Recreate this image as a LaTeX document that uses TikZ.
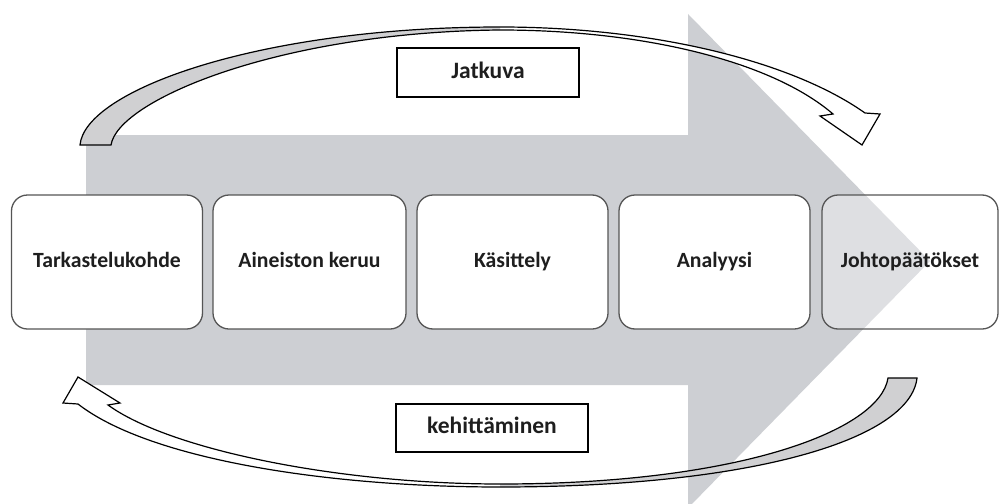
\documentclass[tikz,border=0pt]{standalone}
\usepackage{fontspec}
\setmainfont{Carlito}
\definecolor{biggray}{RGB}{205,207,211}
\definecolor{cgray}{RGB}{208,208,210}
\definecolor{boxborder}{RGB}{85,85,85}
\definecolor{txt}{RGB}{30,30,30}
\begin{document}
\begin{tikzpicture}[x=1pt,y=-1pt,
  stagebox/.style={draw=boxborder, line width=1.3pt, rounded corners=16pt, fill=white,
    minimum width=191pt, minimum height=134pt, inner sep=0pt, text=txt,
    text height=14pt, text depth=4pt,
    font=\fontsize{21.7}{24}\selectfont\bfseries},
  labelbox/.style={draw=black, line width=1.4pt, fill=white, inner sep=0pt, text=txt,
    text height=15pt, text depth=4pt,
    font=\fontsize{23.5}{26}\selectfont\bfseries},
  outline/.style={draw=black, line width=1.2pt, line join=miter}]
\useasboundingbox (0,0) rectangle (1000,503);
\clip (0,0) rectangle (1000,503);
% big gray arrow
\fill[biggray] (86,135) -- (688,135) -- (688,14) -- (930,261) -- (688,508) -- (688,385) -- (86,385) -- cycle;
% top curved arrow
\fill[white] (80,145) -- (111,145) .. controls (118,100) and (280,32) .. (500,30)
  .. controls (640,30) and (770,60) .. (833,114) -- (820,116) -- (862,145) -- (880,114) -- (865,113)
  .. controls (790,60) and (650,27) .. (500,27) .. controls (260,27) and (85,90) .. (80,145) -- cycle;
\fill[cgray] (80,145) -- (111,145) .. controls (118,100) and (280,32) .. (500,30)
  -- (500,27) .. controls (260,27) and (85,90) .. (80,145) -- cycle;
\draw[outline] (80,145) -- (111,145) .. controls (118,100) and (280,32) .. (500,30)
  .. controls (640,30) and (770,60) .. (833,114) -- (820,116) -- (862,145) -- (880,114) -- (865,113)
  .. controls (790,60) and (650,27) .. (500,27) .. controls (260,27) and (85,90) .. (80,145) -- cycle;
% bottom curved arrow
\fill[white] (888,378) -- (917,378) .. controls (910,440) and (750,487) .. (500,487)
  .. controls (330,487) and (150,460) .. (78,404) -- (63,403) -- (78,377) -- (120,403) -- (108,405)
  .. controls (170,450) and (340,484) .. (500,484) .. controls (740,484) and (880,430) .. (888,378) -- cycle;
\fill[cgray] (888,378) -- (917,378) .. controls (910,440) and (750,487) .. (500,487)
  -- (500,484) .. controls (740,484) and (880,430) .. (888,378) -- cycle;
\draw[outline] (888,378) -- (917,378) .. controls (910,440) and (750,487) .. (500,487)
  .. controls (330,487) and (150,460) .. (78,404) -- (63,403) -- (78,377) -- (120,403) -- (108,405)
  .. controls (170,450) and (340,484) .. (500,484) .. controls (740,484) and (880,430) .. (888,378) -- cycle;
% stage boxes
\node[stagebox] (b1) at (107,262) {Tarkastelukohde};
\node[stagebox, minimum width=193pt] (b2) at (309.5,262) {Aineiston keruu};
\node[stagebox] (b3) at (512.5,262) {Käsittely};
\node[stagebox] (b4) at (714.5,262) {Analyysi};
\node[stagebox, minimum width=176pt, fill opacity=0.35, text opacity=1] (b5) at (910,262) {Johtopäätökset};
% labels
\node[labelbox, minimum width=182pt, minimum height=49pt] (jat) at (488,72.5) {Jatkuva};
\node[labelbox, minimum width=192pt, minimum height=48pt] (keh) at (492,428) {kehittäminen};
\end{tikzpicture}
\end{document}
